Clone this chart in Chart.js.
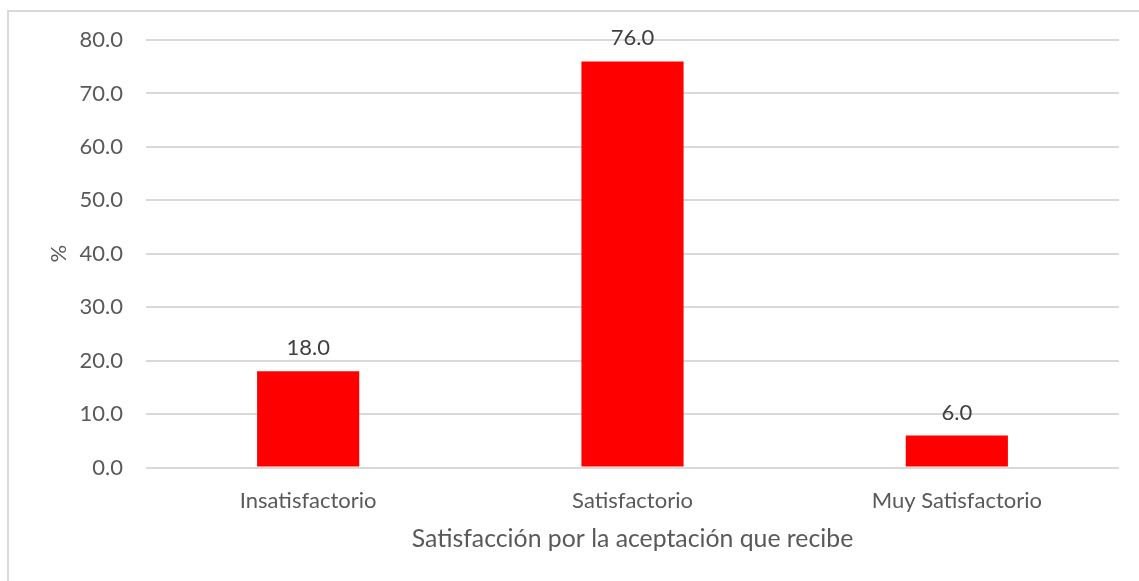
<!DOCTYPE html>
<html>
<head>
<meta charset="utf-8">
<script src="https://cdn.jsdelivr.net/npm/chart.js@4.4.1/dist/chart.umd.min.js"></script>
<style>
  html, body { margin: 0; padding: 0; background: #fff; }
  #wrap { position: relative; width: 1139px; height: 581px; }
</style>
</head>
<body>
<div id="wrap"><canvas id="chart" width="1139" height="581"></canvas></div>
<script>
// ===== Data =====
const categories = ["Insatisfactorio", "Satisfactorio", "Muy Satisfactorio"];
const percentValues = [18.0, 76.0, 6.0];
const yTicks = [0, 10, 20, 30, 40, 50, 60, 70, 80];
const xTitle = "Satisfacción por la aceptación que recibe";
const yTitle = "%";

const FONT = "Lato, 'Open Sans', sans-serif";
const TEXT = "#595959";
const GRID = "#d9d9d9";

// ===== Plugin: outer frame + value labels =====
const frameAndLabels = {
  id: "frameAndLabels",
  beforeDraw(chart) {
    const ctx = chart.ctx;
    ctx.save();
    ctx.strokeStyle = GRID;
    ctx.lineWidth = 2;
    ctx.strokeRect(8, 11, 1140, 600);
    ctx.restore();
  },
  afterDatasetsDraw(chart) {
    const ctx = chart.ctx;
    const meta = chart.getDatasetMeta(0);
    ctx.save();
    ctx.font = "22px " + FONT;
    ctx.fillStyle = "#404040";
    ctx.textAlign = "center";
    ctx.textBaseline = "middle";
    meta.data.forEach((bar, i) => {
      ctx.fillText(percentValues[i].toFixed(1), bar.x, bar.y - 23);
    });
    ctx.restore();
  }
};

new Chart(document.getElementById("chart"), {
  type: "bar",
  data: {
    labels: categories,
    datasets: [{
      data: percentValues,
      backgroundColor: "#ff0000",
      borderWidth: 0,
      categoryPercentage: 1,
      barPercentage: 0.315
    }]
  },
  options: {
    responsive: false,
    animation: false,
    layout: { padding: { left: 0, top: 40, right: 20, bottom: 0 } },
    plugins: { legend: { display: false }, tooltip: { enabled: false } },
    scales: {
      x: {
        grid: { display: false, drawTicks: false },
        border: { display: false },
        ticks: { color: TEXT, font: { family: FONT, size: 22 }, padding: 20 },
        title: {
          display: true, text: xTitle, color: TEXT,
          font: { family: FONT, size: 24.8, lineHeight: 1 },
          padding: { top: 0, bottom: 30 }
        },
        afterFit(scale) { scale.height = 113.5; }
      },
      y: {
        min: 0, max: 80,
        afterBuildTicks(scale) { scale.ticks = yTicks.map(v => ({ value: v })); },
        grid: { color: GRID, lineWidth: 2, drawTicks: false },
        border: { display: false },
        ticks: {
          color: TEXT, font: { family: FONT, size: 22 }, padding: 23,
          callback: v => Number(v).toFixed(1)
        },
        title: {
          display: true, text: yTitle, color: TEXT,
          font: { family: FONT, size: 22, lineHeight: 1 },
          padding: { top: 48, bottom: 0 }
        },
        afterFit(scale) { scale.width = 146; }
      }
    }
  },
  plugins: [frameAndLabels]
});
</script>
</body>
</html>
